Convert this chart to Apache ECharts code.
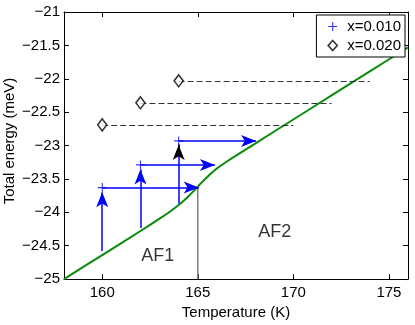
<!DOCTYPE html>
<html><head><meta charset="utf-8">
<script src="https://cdn.jsdelivr.net/npm/echarts@6/dist/echarts.min.js"></script>
<style>html,body{margin:0;padding:0;background:#fff}#c{width:415px;height:325px}</style>
</head><body><div id="c"></div>
<script>
// ---- data ----
const curveT = [158, 160, 162, 163, 163.5, 164, 164.25, 164.5, 164.75, 165, 165.25, 165.5, 165.75, 166, 166.25, 166.5, 167, 168, 170, 172, 174, 176];
const curveE = [-25.0, -24.64, -24.28, -24.095, -23.998, -23.89, -23.83, -23.762, -23.69, -23.615, -23.54, -23.47, -23.405, -23.345, -23.292, -23.243, -23.15, -22.97, -22.61, -22.25, -21.89, -21.53];
const x010T = [160, 162, 164];
const x010E = [-23.63, -23.29, -22.93];
const x010StartE = [-24.58, -24.235, -23.87];
const x010ArrowEndT = [165.05, 165.9, 168.05];
const x020T = [160, 162, 164];
const x020E = [-22.69, -22.36, -22.03];
const x020EndT = [170, 172, 174];
const boundaryT = 165;
const boundaryTopE = -23.615;
const phaseLabels = [[162.9, -24.65, 'AF1'], [169.03, -24.29, 'AF2']];
const xTicks = [160, 165, 170, 175];

const FONT = 'Liberation Sans, Arial, sans-serif';
const BLUE = '#0000ff';
const fmtY = v => String(v).replace('-', '\u2212');

const chart = echarts.init(document.getElementById('c'), null, {renderer: 'canvas'});

const blueArrows = [];
x010T.forEach((t, i) => {
  if (i === 2) {
    blueArrows.push([{coord: [t, x010StartE[i]], symbol: 'none'}, {coord: [t, x010E[i] - 0.05], symbol: 'none'}]);
    blueArrows.push([{coord: [t, x010E[i] - 0.2], symbol: 'none'}, {coord: [t, x010E[i] - 0.06], symbol: 'arrow', lineStyle: {color: '#000'}, itemStyle: {color: '#000'}}]);
  } else {
    blueArrows.push([{coord: [t, x010StartE[i]], symbol: 'none'}, {coord: [t, x010E[i] - 0.07], symbol: 'arrow'}]);
  }
  blueArrows.push([{coord: [t, x010E[i]], symbol: 'none'}, {coord: [x010ArrowEndT[i], x010E[i]], symbol: 'arrow'}]);
});

const dashLines = x020T.map((t, i) => [{coord: [t, x020E[i]]}, {coord: [x020EndT[i], x020E[i]]}]);

const plusPath = 'path://M0,4.4H10V5.6H0Z M4.4,0H5.6V10H4.4Z';

const option = {
  animation: false,
  grid: {left: 64, right: 7, top: 12, bottom: 36, show: false},
  xAxis: [{
    type: 'value', min: 158, max: 176, interval: 5,
    axisLine: {show: true, onZero: false, lineStyle: {color: '#000', width: 1}},
    axisTick: {show: true, inside: true, length: 5, lineStyle: {color: '#000'}, customValues: xTicks},
    axisLabel: {color: '#000', fontSize: 15, fontFamily: FONT, margin: 6, customValues: xTicks},
    splitLine: {show: false},
    name: 'Temperature (K)', nameLocation: 'middle', nameGap: 25,
    nameTextStyle: {color: '#000', fontSize: 15, fontFamily: FONT}
  }, {
    type: 'value', position: 'top', min: 158, max: 176,
    axisLine: {show: true, onZero: false, lineStyle: {color: '#000', width: 1}},
    axisTick: {show: true, inside: true, length: 5, lineStyle: {color: '#000'}, customValues: xTicks},
    axisLabel: {show: false}, splitLine: {show: false}
  }],
  yAxis: [{
    type: 'value', min: -25, max: -21, interval: 0.5,
    axisLine: {show: true, onZero: false, lineStyle: {color: '#000', width: 1}},
    axisTick: {show: true, inside: true, length: 5, lineStyle: {color: '#000'}},
    axisLabel: {color: '#000', fontSize: 15, fontFamily: FONT, margin: 4, formatter: fmtY},
    splitLine: {show: false}
  }, {
    type: 'value', position: 'right', min: -25, max: -21, interval: 0.5,
    axisLine: {show: true, onZero: false, lineStyle: {color: '#000', width: 1}},
    axisTick: {show: true, inside: true, length: 5, lineStyle: {color: '#000'}},
    axisLabel: {show: false}, splitLine: {show: false}
  }],
  legend: {
    right: 10, top: 15, orient: 'vertical', itemGap: 4,
    backgroundColor: '#fff', borderColor: '#000', borderWidth: 1, borderRadius: 0,
    padding: [4, 4, 4, 11], itemWidth: 9, itemHeight: 10,
    textStyle: {color: '#000', fontSize: 15, fontFamily: FONT, padding: [0, 0, 0, 5]},
    data: [
      {name: 'x=0.010', icon: plusPath, itemStyle: {color: BLUE}},
      {name: 'x=0.020', icon: 'diamond', itemStyle: {color: '#fff', borderColor: '#000', borderWidth: 1.6}}
    ]
  },
  series: [
    {
      name: 'curve', type: 'line', smooth: 0.3, showSymbol: false, z: 3,
      data: curveT.map((t, i) => [t, curveE[i]]),
      lineStyle: {color: '#0a8a0a', width: 2}
    },
    {
      name: 'boundary', type: 'line', showSymbol: false, z: 2,
      data: [[boundaryT, -25], [boundaryT, boundaryTopE]],
      lineStyle: {color: '#808080', width: 1.5}
    },
    {
      name: 'x=0.020', type: 'scatter', z: 5,
      data: x020T.map((t, i) => [t, x020E[i]]),
      symbol: 'diamond', symbolSize: [9, 12],
      itemStyle: {color: '#fff', borderColor: '#000', borderWidth: 1.6},
      markLine: {
        silent: true, symbol: 'none', label: {show: false}, animation: false,
        lineStyle: {color: '#333', type: [6, 3], width: 1},
        data: dashLines
      }
    },
    {
      name: 'x=0.010', type: 'scatter', z: 6,
      data: x010T.map((t, i) => [t, x010E[i]]),
      symbol: plusPath, symbolSize: 9,
      itemStyle: {color: BLUE},
      markLine: {
        silent: true, label: {show: false}, animation: false,
        symbolSize: [9, 15],
        lineStyle: {color: BLUE, type: 'solid', width: 1.5},
        itemStyle: {color: BLUE},
        data: blueArrows
      }
    },
    {
      name: 'labels', type: 'scatter', symbolSize: 0, z: 7, silent: true,
      data: phaseLabels.map(p => ({value: [p[0], p[1]], label: {show: true, formatter: p[2]}})),
      label: {show: true, position: 'inside', color: '#000', fontSize: 18, fontFamily: FONT}
    }
  ],
  graphic: [{
    type: 'text', x: 10, y: 141, rotation: Math.PI / 2,
    style: {text: 'Total energy (meV)', fill: '#000', font: '15px ' + FONT, textAlign: 'center', textVerticalAlign: 'middle'}
  }]
};
chart.setOption(option);
</script>
</body></html>
